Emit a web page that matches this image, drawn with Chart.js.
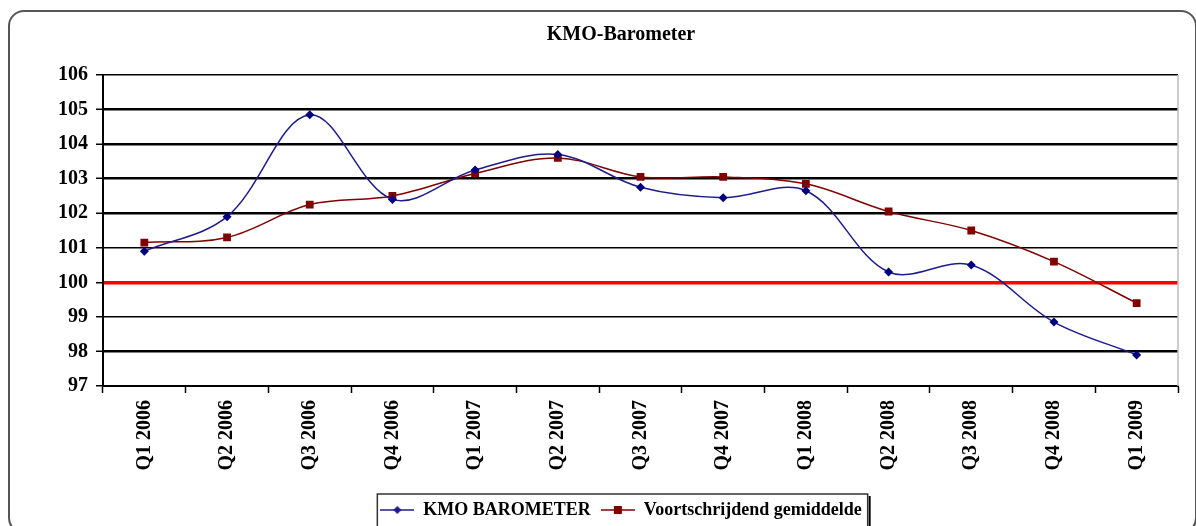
<!DOCTYPE html>
<html>
<head>
<meta charset="utf-8">
<title>KMO-Barometer</title>
<script src="https://cdn.jsdelivr.net/npm/chart.js@4/dist/chart.umd.min.js"></script>
<style>
    body { margin: 0; background: #fff; overflow: hidden; }
    #wrap { position: relative; width: 1196px; height: 526px; }
    #frame {
        position: absolute; left: 8px; top: 10px; width: 1185px; height: 520px;
        border: 2px solid #555; border-radius: 16px;
    }
    #kmoChart { position: absolute; left: 0; top: 0; }
</style>
</head>
<body>
<div id="wrap">
    <div id="frame"></div>
    <canvas id="kmoChart" width="1196" height="526"></canvas>
</div>
<script>
const quarters = ['Q1 2006', 'Q2 2006', 'Q3 2006', 'Q4 2006', 'Q1 2007', 'Q2 2007', 'Q3 2007',
    'Q4 2007', 'Q1 2008', 'Q2 2008', 'Q3 2008', 'Q4 2008', 'Q1 2009'];
const barometer = [100.9, 101.9, 104.85, 102.4, 103.25, 103.7, 102.75, 102.45, 102.65, 100.3, 100.5, 98.85, 97.9];
const movingAverage = [101.15, 101.3, 102.25, 102.5, 103.15, 103.6, 103.05, 103.05, 102.85, 102.05, 101.5, 100.6, 99.4];
const yMin = 97;
const yMax = 106;
const baseLine = 100;

const FONT = "'Liberation Serif', 'Times New Roman', serif";
const BLUE = '#1c1c8c';
const RED = '#800000';
const thickLines = [98, 102, 103, 104, 105];

// small line + marker picture for the legend
function makeLegendIcon(color, marker) {
    const c = document.createElement('canvas');
    c.width = 34;
    c.height = 14;
    const ctx = c.getContext('2d');
    ctx.strokeStyle = color;
    ctx.lineWidth = 1.5;
    ctx.beginPath();
    ctx.moveTo(0, 7);
    ctx.lineTo(34, 7);
    ctx.stroke();
    ctx.fillStyle = color;
    ctx.beginPath();
    if (marker === 'diamond') {
        ctx.moveTo(17, 3);
        ctx.lineTo(21, 7);
        ctx.lineTo(17, 11);
        ctx.lineTo(13, 7);
        ctx.closePath();
    } else {
        ctx.rect(13, 3, 8, 8);
    }
    ctx.fill();
    return c;
}

const chartDecor = {
    id: 'chartDecor',
    afterDraw(chart) {
        const ctx = chart.ctx;
        const area = chart.chartArea;
        ctx.save();
        // light right border of the plot
        ctx.strokeStyle = '#bdbdbd';
        ctx.lineWidth = 1.5;
        ctx.beginPath();
        ctx.moveTo(area.right, area.top);
        ctx.lineTo(area.right, area.bottom);
        ctx.stroke();

        // box round the legend
        const boxes = chart.legend.legendHitBoxes;
        if (boxes && boxes.length) {
            const first = boxes[0];
            const last = boxes[boxes.length - 1];
            const left = first.left - 3;
            const right = last.left + last.width + 6;
            const top = chart.legend.top + 3;
            ctx.strokeStyle = '#333';
            ctx.lineWidth = 1.5;
            ctx.beginPath();
            ctx.moveTo(left, chart.height + 5);
            ctx.lineTo(left, top);
            ctx.lineTo(right, top);
            ctx.lineTo(right, chart.height + 5);
            ctx.stroke();
            ctx.strokeStyle = '#000';
            ctx.lineWidth = 2;
            ctx.beginPath();
            ctx.moveTo(right + 2, top + 2);
            ctx.lineTo(right + 2, chart.height + 5);
            ctx.stroke();
        }
        ctx.restore();
    }
};

window.onload = () => {
    const ctx = document.getElementById('kmoChart').getContext('2d');
    const icons = [makeLegendIcon(BLUE, 'diamond'), makeLegendIcon(RED, 'square')];
    new Chart(ctx, {
        type: 'line',
        data: {
            labels: quarters,
            datasets: [{
                label: 'KMO BAROMETER',
                data: barometer,
                borderColor: BLUE,
                backgroundColor: '#000080',
                borderWidth: 1.5,
                pointStyle: 'rectRot',
                pointRadius: 4.5,
                pointBorderWidth: 0,
                tension: 0.35,
                fill: false
            }, {
                label: 'Voortschrijdend gemiddelde',
                data: movingAverage,
                borderColor: RED,
                backgroundColor: RED,
                borderWidth: 1.5,
                pointStyle: 'rect',
                pointRadius: 5.5,
                pointBorderWidth: 0,
                tension: 0.35,
                fill: false
            }]
        },
        options: {
            responsive: false,
            animation: false,
            devicePixelRatio: 1,
            layout: { padding: { left: 64, right: 18, top: 0, bottom: -3 } },
            plugins: {
                title: {
                    display: true,
                    text: 'KMO-Barometer',
                    color: '#000',
                    font: { family: FONT, size: 20, weight: 'bold' },
                    padding: { top: 23, bottom: 28 }
                },
                legend: {
                    position: 'bottom',
                    labels: {
                        usePointStyle: true,
                        pointStyleWidth: 34,
                        padding: 10,
                        color: '#000',
                        font: { family: FONT, size: 18, weight: 'bold' },
                        generateLabels: chart => chart.data.datasets.map((ds, i) => ({
                            text: ds.label,
                            pointStyle: icons[i],
                            fillStyle: ds.borderColor,
                            strokeStyle: ds.borderColor,
                            fontColor: '#000',
                            lineWidth: 0,
                            hidden: false,
                            datasetIndex: i
                        }))
                    }
                },
                tooltip: { enabled: false }
            },
            scales: {
                x: {
                    offset: true,
                    afterFit: scale => { scale.height = 105; },
                    border: { color: '#000', width: 2 },
                    grid: {
                        offset: true,
                        drawOnChartArea: false,
                        drawTicks: true,
                        tickLength: 7,
                        tickWidth: 1.5,
                        tickColor: '#000'
                    },
                    ticks: {
                        autoSkip: false,
                        minRotation: 90,
                        maxRotation: 90,
                        padding: 7,
                        color: '#000',
                        font: { family: FONT, size: 20, weight: 'bold' }
                    }
                },
                y: {
                    min: yMin,
                    max: yMax,
                    afterFit: scale => {
                        scale.width = 39;
                        // let the labels run past the narrow axis box
                        scale._computeLabelArea = () => undefined;
                    },
                    border: { color: '#000', width: 2 },
                    grid: {
                        color: c => c.tick.value === baseLine ? '#ff0000' : '#000',
                        lineWidth: c => {
                            if (c.tick.value === baseLine) return 3.5;
                            if (thickLines.includes(c.tick.value)) return 2.5;
                            return 1.5;
                        },
                        tickLength: 7,
                        tickWidth: 1.5,
                        tickColor: '#000'
                    },
                    ticks: {
                        stepSize: 1,
                        padding: 8,
                        color: '#000',
                        font: { family: FONT, size: 20, weight: 'bold' }
                    }
                }
            }
        },
        plugins: [chartDecor]
    });
};
</script>
</body>
</html>
